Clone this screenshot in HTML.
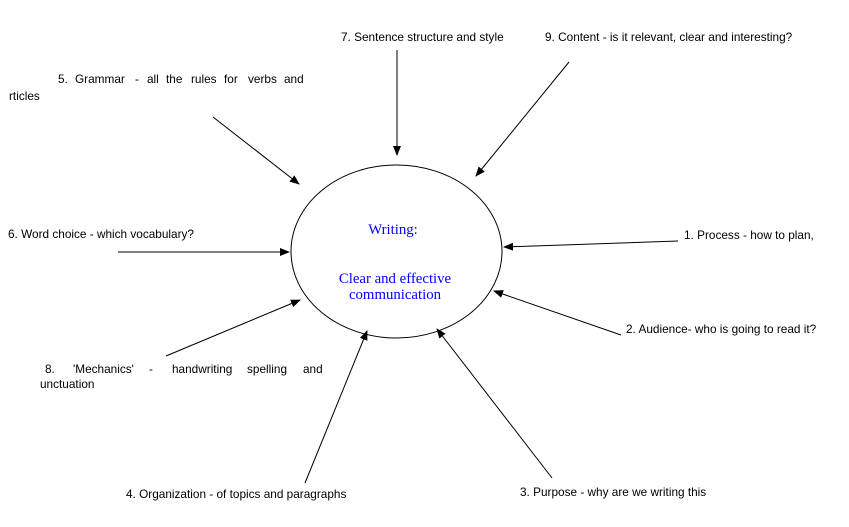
<!DOCTYPE html>
<html><head><meta charset="utf-8"><style>
body{margin:0;background:#fff;width:849px;height:522px;overflow:hidden}
svg text{font-family:"Liberation Sans",Arial,sans-serif;font-size:11.8px;fill:#000}
svg text.s{font-family:"Liberation Serif","Times New Roman",serif;font-size:14.8px;fill:#00f}
</style></head><body>
<svg width="849" height="522" xmlns="http://www.w3.org/2000/svg">
<defs><marker id="a" markerWidth="10" markerHeight="8" refX="9" refY="4" orient="auto" markerUnits="userSpaceOnUse"><path d="M0,0 L10,4 L0,8 Z" fill="#000"/></marker></defs>
<ellipse cx="396.5" cy="251.5" rx="105.5" ry="86.5" fill="none" stroke="#000" stroke-width="1"/>
<g stroke="#000" stroke-width="1" marker-end="url(#a)">
<line x1="397" y1="50" x2="397" y2="155"/>
<line x1="569" y1="62" x2="476" y2="176"/>
<line x1="213" y1="117" x2="299" y2="184"/>
<line x1="118" y1="252" x2="289" y2="252"/>
<line x1="678" y1="241" x2="504" y2="247"/>
<line x1="621" y1="335" x2="494" y2="291"/>
<line x1="552" y1="478" x2="437" y2="329"/>
<line x1="305" y1="483" x2="367" y2="331"/>
<line x1="166" y1="356" x2="300" y2="300"/>
</g>
<text class="s" x="393" y="234" text-anchor="middle">Writing:</text>
<text class="s" x="395" y="283" text-anchor="middle">Clear and effective</text>
<text class="s" x="395" y="299" text-anchor="middle">communication</text>
<text x="341" y="41">7. Sentence structure and style</text>
<text x="545" y="41">9. Content - is it relevant, clear and interesting?</text>
<text y="83"><tspan x="58">5.</tspan><tspan x="75">Grammar</tspan><tspan x="135">-</tspan><tspan x="147">all</tspan><tspan x="166">the</tspan><tspan x="191">rules</tspan><tspan x="224">for</tspan><tspan x="248">verbs</tspan><tspan x="284">and</tspan></text>
<text x="9" y="100">rticles</text>
<text x="8" y="238">6. Word choice - which vocabulary?</text>
<text x="684" y="239">1. Process - how to plan,</text>
<text x="626" y="333">2. Audience- who is going to read it?</text>
<text y="373"><tspan x="45">8.</tspan><tspan x="73">'Mechanics'</tspan><tspan x="149">-</tspan><tspan x="172">handwriting</tspan><tspan x="247">spelling</tspan><tspan x="303">and</tspan></text>
<text x="40" y="388">unctuation</text>
<text x="126" y="498">4. Organization - of topics and paragraphs</text>
<text x="520" y="496">3. Purpose - why are we writing this</text>
</svg>
</body></html>
